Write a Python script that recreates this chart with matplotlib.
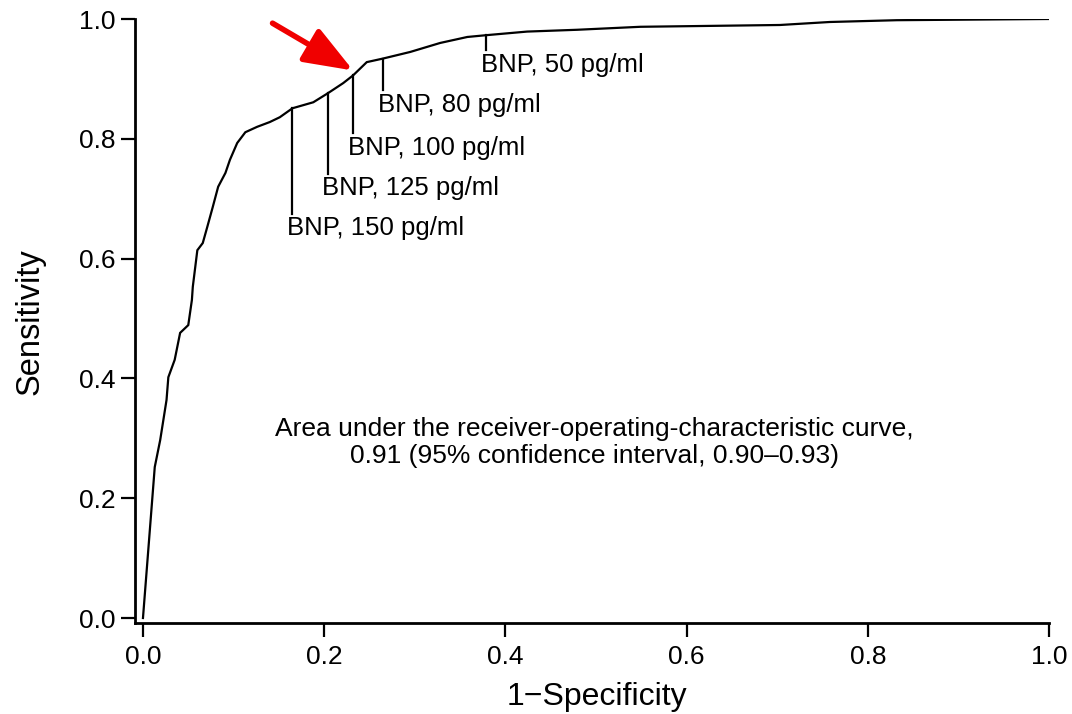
import matplotlib
matplotlib.use("Agg")
import matplotlib.pyplot as plt

plt.rcParams['font.family'] = ['Liberation Sans', 'DejaVu Sans']

# ROC curve for BNP, read as (1-specificity, sensitivity)
fpr = [0.000, 0.013, 0.019, 0.026, 0.028, 0.035, 0.041, 0.050, 0.054, 0.055,
       0.060, 0.066, 0.071, 0.077, 0.083, 0.091, 0.096, 0.104, 0.113, 0.126,
       0.140, 0.151, 0.165, 0.188, 0.204, 0.221, 0.232, 0.247, 0.265, 0.295,
       0.328, 0.358, 0.379, 0.424, 0.479, 0.549, 0.703, 0.758, 0.832, 1.000]
tpr = [0.000, 0.252, 0.297, 0.364, 0.402, 0.431, 0.476, 0.489, 0.531, 0.553,
       0.614, 0.626, 0.653, 0.686, 0.720, 0.743, 0.765, 0.793, 0.811, 0.820,
       0.828, 0.836, 0.851, 0.861, 0.876, 0.893, 0.906, 0.928, 0.934, 0.945,
       0.960, 0.970, 0.973, 0.979, 0.982, 0.987, 0.990, 0.995, 0.998, 1.000]

# BNP cut-off values marked on the curve
cutoff_labels = ["BNP, 150 pg/ml", "BNP, 125 pg/ml", "BNP, 100 pg/ml",
                 "BNP, 80 pg/ml", "BNP, 50 pg/ml"]
cutoff_fpr = [0.165, 0.204, 0.232, 0.265, 0.379]
cutoff_tpr = [0.851, 0.876, 0.906, 0.934, 0.973]

auc_text = ["Area under the receiver-operating-characteristic curve,",
            "0.91 (95% confidence interval, 0.90\u20130.93)"]

# baseline of each cut-off label (data units)
label_base = [0.639, 0.706, 0.773, 0.845, 0.912]

fig = plt.figure(figsize=(10.72, 7.14), dpi=100)
ax = fig.add_axes([135 / 1072, 1 - 622.5 / 714, 914 / 1072, 603.5 / 714])

ax.plot(fpr, tpr, color='black', lw=1.6, solid_joinstyle='miter')

for lab, x, y, yb in zip(cutoff_labels, cutoff_fpr, cutoff_tpr, label_base):
    ax.plot([x, x], [y, yb + 0.036], color='black', lw=1.6)
    ax.text(x - 0.006, yb, lab, ha='left', va='baseline', fontsize=18.5)

ax.text(0.498, 0.304, auc_text[0], ha='center', va='baseline', fontsize=19)
ax.text(0.498, 0.259, auc_text[1], ha='center', va='baseline', fontsize=19)

# red arrow pointing at the 100 pg/ml cut-off
ax.annotate("", xy=(0.232, 0.914), xytext=(0.143, 0.993),
            arrowprops=dict(arrowstyle="-|>,head_length=3.0,head_width=1.15",
                            color='#f00000', lw=4, shrinkA=0, shrinkB=0,
                            mutation_scale=10),
            annotation_clip=False)

ax.set_xlim(-0.0088, 1.0)
ax.set_ylim(-0.0075, 1.0)
ticks = [0.0, 0.2, 0.4, 0.6, 0.8, 1.0]
ax.set_xticks(ticks)
ax.set_yticks(ticks)
ax.set_xticklabels([f"{t:.1f}" for t in ticks])
ax.set_yticklabels([f"{t:.1f}" for t in ticks])
ax.tick_params(axis='both', direction='out', length=10, width=1.6,
               labelsize=19, colors='black')
ax.tick_params(axis='x', pad=6)
ax.tick_params(axis='y', pad=4)

for side in ['top', 'right']:
    ax.spines[side].set_visible(False)
for side in ['left', 'bottom']:
    ax.spines[side].set_linewidth(2.0)

fig.text(30 / 1072, 1 - 322 / 714, "Sensitivity", rotation=90,
         ha='center', va='center', fontsize=23.5)
fig.text(597 / 1072, 1 - 697 / 714, "1\u2212Specificity",
         ha='center', va='center', fontsize=23)

fig.savefig("out.png", dpi=100, facecolor='white')
